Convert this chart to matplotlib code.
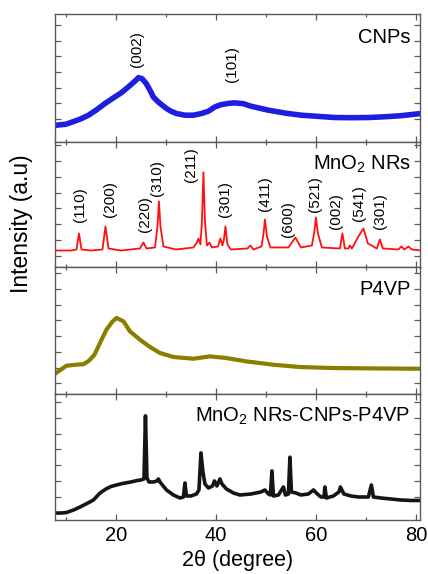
import numpy as np
import matplotlib
matplotlib.use("Agg")
import matplotlib.pyplot as plt
from matplotlib.ticker import MultipleLocator

plt.rcParams['font.family'] = ['Liberation Sans', 'DejaVu Sans']
plt.rcParams['mathtext.default'] = 'regular'

# --- data (2theta in degrees, intensity in arbitrary units) ---
cnp_x = [8, 10, 12.8, 14.5, 16, 17.8, 18.8, 20, 21.1, 22.1, 23, 23.8, 24.5, 25.2, 26,
         26.8, 27.5, 28.5, 30.1, 31, 32.1, 33.8, 35.5, 37.1, 38.5, 39.8, 41,
         42.5, 43.8, 45.5, 47, 50.5, 54, 57.1, 60, 63.8, 67, 70.5, 74, 77, 81]
cnp_y = [17, 18, 23, 27, 32, 38.7, 42, 46, 49.5, 53.7, 57.5, 61, 64.5, 63.5, 59,
         52, 45, 40, 33.7, 31, 28.7, 27, 27, 28.7, 31, 35.3, 37.5,
         38.8, 39.3, 38.5, 36, 32, 29, 27, 26, 24.7, 24.5, 24.7, 25.5, 26.5, 28.7]

mno2_x = [8, 11, 12.1, 12.6, 13.1, 15, 17.3, 17.9, 18.5, 21, 24.8, 25.5, 26.1, 27.8, 28.3,
          28.6, 28.9, 29.5, 32, 35.5, 36.2, 36.5, 36.9, 37.2, 37.5, 37.8, 38.2, 38.7, 39.2,
          40.4, 40.9, 41.3, 41.6, 41.9, 42.3, 43, 46.3, 46.9, 47.5, 49.1, 49.5, 49.8, 50.2,
          50.9, 54.5, 55.9, 57, 59.2, 59.7, 60.0, 60.4, 61.2, 64.8, 65.3, 65.8, 66.5, 66.8,
          67.2, 68.5, 69.5, 70.4, 72.2, 72.8, 73.4, 76.5, 77.1, 77.7, 78.5, 79.2, 81]
mno2_y = [16, 16, 17, 33, 17, 16, 17, 40, 18, 16, 18, 24, 18, 19, 40,
          65, 40, 20, 17, 19, 24, 28, 22, 45, 94, 45, 21, 24, 19,
          20, 28, 21, 27, 40, 22, 17, 18, 21, 17, 20, 32, 47, 30,
          19, 19, 29, 19, 21, 35, 49, 33, 19, 18, 33, 18, 18, 21,
          18, 30, 38, 23, 18, 27, 18, 17, 20, 17, 20, 17, 16]

p4vp_x = [8, 10.1, 12, 13.5, 14.6, 15.7, 16.8, 18.1, 19.2, 20.1, 21.5, 22.8, 24.8, 26.8,
          28.8, 31.5, 35.5, 38.8, 42.1, 46.1, 51.5, 56.8, 63.5, 72, 81]
p4vp_y = [20.7, 28, 29, 29.5, 33, 39, 50.7, 64, 71.5, 75.7, 72.3, 62.3, 54, 46.7,
          40.7, 36.7, 35, 37.3, 35.7, 32.3, 29, 26.7, 25.7, 25.3, 25]

comp_x = [7.8, 9, 10.1, 11.5, 12.8, 14, 15.5, 16.8, 18, 19, 20.5, 21.5, 23, 24.1, 25,
          25.6, 25.9, 26.2, 26.6, 27.5, 28.2, 28.5, 28.8, 30.1, 31.5, 32.8, 33.5, 33.8,
          34.1, 35, 36.1, 36.6, 37.0, 37.4, 37.8, 38.5, 39.3, 39.7, 40.2, 40.8, 41.2, 42.1,
          43.5, 44.8, 47, 49, 49.8, 50.5, 50.9, 51.2, 51.5, 52.5, 53.5, 53.9, 54.5, 54.8,
          55.1, 56, 57, 58.5, 59.5, 60.3, 61, 61.6, 61.8, 62.1, 63.5, 64.6, 64.9, 65.6, 67,
          68.5, 70.5, 71.1, 71.5, 73, 75, 77, 79, 81]
comp_y = [7, 7, 7.5, 10, 13, 16, 20, 27, 31, 33.5, 35.5, 36.7, 38, 39.3, 40,
          41, 104, 42, 38, 38, 39, 41, 38, 30, 25, 22, 23, 37,
          24, 24, 26, 30, 67, 48, 36, 32, 34, 39, 34, 41, 36, 31,
          27, 25, 26, 28, 30, 26, 25, 49, 24, 25, 33, 25, 26, 62.7,
          28, 27, 25, 26, 30, 26, 23, 23, 33, 22, 24, 28, 33, 26, 24,
          23, 23, 35, 23, 22, 21, 20, 19.5, 19.5]

# hkl labels: (text, 2theta, height)
cnp_labels = [("(002)", 24.3, 75), ("(101)", 43.3, 60)]
mno2_labels = [("(110)", 12.8, 44), ("(200)", 18.8, 49), ("(220)", 25.9, 34),
               ("(310)", 28.3, 70), ("(211)", 35.0, 84), ("(301)", 41.8, 49),
               ("(411)", 49.8, 55), ("(600)", 54.5, 29), ("(521)", 59.8, 54),
               ("(002)", 64.1, 37), ("(541)", 68.7, 45), ("(301)", 72.8, 37)]

panels = [
    (cnp_x, cnp_y, "#1e1ee0", 4.0, "CNPs", cnp_labels, 128, 23),
    (mno2_x, mno2_y, "#ff1010", 1.3, "MnO$_2$ NRs", mno2_labels, 124, 11),
    (p4vp_x, p4vp_y, "#8a7e00", 3.0, "P4VP", [], 127, 10.5),
    (comp_x, comp_y, "#151515", 2.6, "MnO$_2$ NRs-CNPs-P4VP", [], 126, 23.3),
]

fig = plt.figure(figsize=(4.28, 5.74), dpi=100)
ratios = [p[6] for p in panels]
gs = fig.add_gridspec(4, 1, left=0.1285, right=0.981, top=0.9756, bottom=0.094,
                      hspace=0, height_ratios=ratios)

frame = "#5a5a5a"
for i, (xs, ys, col, lw, name, labels, top, y0) in enumerate(panels):
    ax = fig.add_subplot(gs[i])
    ax.plot(xs, ys, color=col, lw=lw, solid_joinstyle='round')
    ax.set_xlim(7.8, 80.8)
    ax.set_ylim(0, top)
    ax.set_yticks(np.arange(y0, top, 15.7))
    ax.xaxis.set_major_locator(MultipleLocator(20))
    ax.xaxis.set_minor_locator(MultipleLocator(10))
    ax.tick_params(axis='both', which='both', direction='in', top=True, right=True,
                   color=frame, labelleft=False)
    ax.tick_params(axis='x', which='major', length=4, width=0.9)
    ax.tick_params(axis='x', which='minor', length=2, width=0.9)
    ax.tick_params(axis='y', length=4.5, width=0.9)
    for s in ax.spines.values():
        s.set_color(frame)
        s.set_linewidth(1.0)
    if i < 3:
        ax.tick_params(labelbottom=False)
    else:
        ax.tick_params(axis='x', labelsize=14.5, pad=4)
        ax.set_xlabel("2θ (degree)", fontsize=15.5, labelpad=4)
    ax.text(0.975, 0.82, name, transform=ax.transAxes, ha='right', va='center',
            fontsize=14.5)
    for txt, lx, ly in labels:
        ax.text(lx, ly, txt, rotation=90, ha='center', va='bottom', fontsize=11)

fig.text(0.051, 0.611, "Intensity (a.u)", rotation=90, ha='center', va='center',
         fontsize=16.5)

fig.savefig("out.png", dpi=100)
